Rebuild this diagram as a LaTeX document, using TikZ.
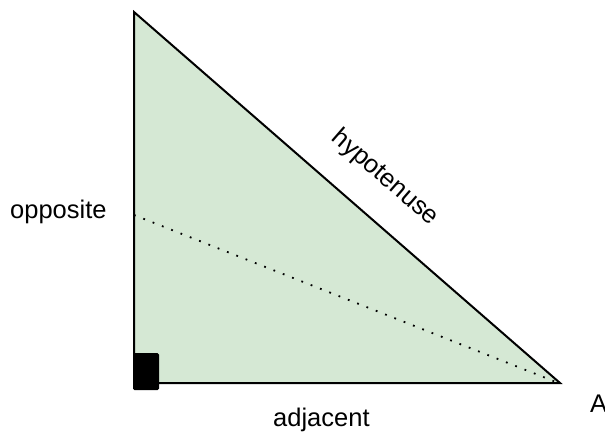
\documentclass[tikz,border=0pt]{standalone}
\usepackage{fontspec}
\setmainfont{Liberation Sans}
\definecolor{tri}{HTML}{D5E8D4}
\begin{document}
\begin{tikzpicture}[x=1pt,y=1pt,
  lbl/.style={inner sep=0pt,font=\fontsize{25.5}{30}\selectfont},
  edge/.style={line width=2pt,line join=miter}]
\useasboundingbox (0,0) rectangle (605,432);
\coordinate (T) at (134,420);
\coordinate (C) at (134,49);
\coordinate (B) at (560,49);
\coordinate (O) at (134,217);
\coordinate (D) at (556,50);
\fill[tri] (T) -- (C) -- (B) -- cycle;
\draw[line width=1.8pt,dash pattern=on 1.8pt off 8.2pt] (O) -- (D);
\draw[edge] (T) -- (C) -- (B) -- cycle;
\fill[black,rounded corners=1.5pt] (133,42) rectangle (159,79);
\node[lbl,anchor=base west] (opp) at (10,214) {opposite};
\node[lbl,anchor=base west] (adj) at (273,6) {adjacent};
\node[lbl,anchor=base west] (A) at (590,20) {A};
\node[lbl,rotate=-41,anchor=center] (hyp) at (385,254) {hypotenuse};
\end{tikzpicture}
\end{document}
